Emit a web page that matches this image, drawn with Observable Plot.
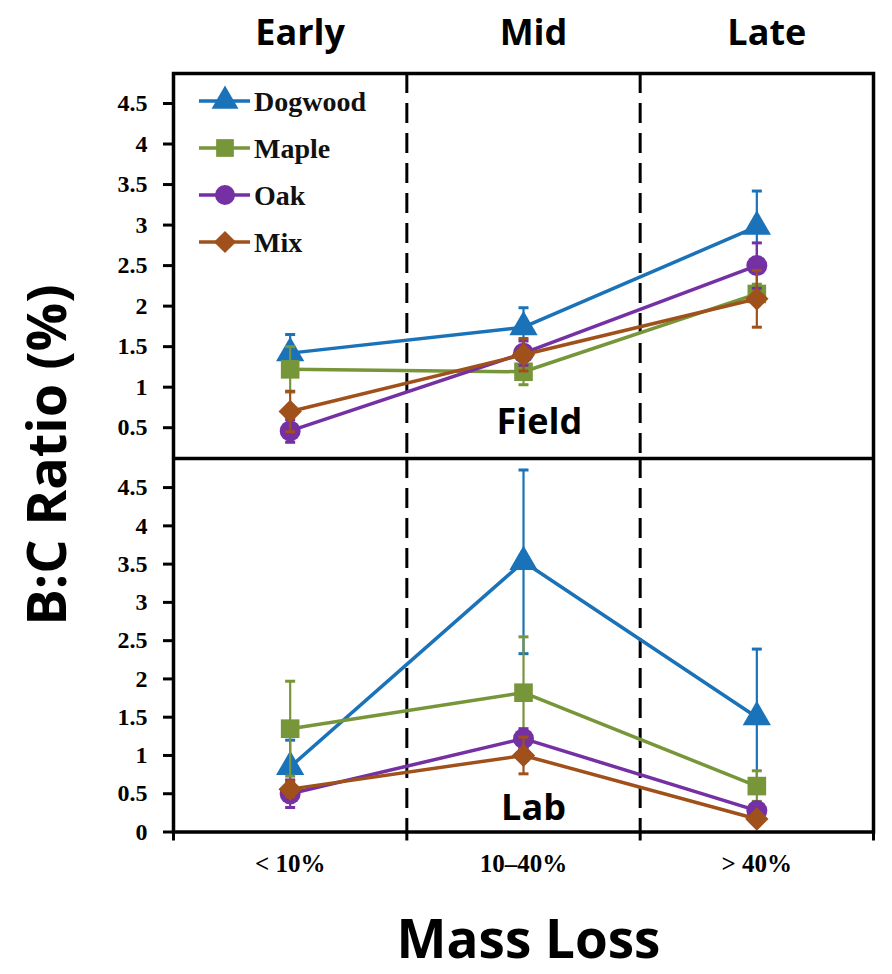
<!DOCTYPE html>
<html><head><meta charset="utf-8">
<script src="https://cdn.jsdelivr.net/npm/d3@7"></script>
<script src="https://cdn.jsdelivr.net/npm/@observablehq/plot@0.6"></script>
<style>
body{margin:0;background:#fff;}
#wrap{position:relative;width:892px;height:974px;overflow:hidden;background:#fff;}
#wrap > *{position:absolute;left:0;}
#ylab{font-family:"Open Sans",sans-serif;font-weight:700;font-size:54px;color:#000;white-space:nowrap;
  left:45px;top:455px;transform:translate(-50%,-50%) rotate(-90deg);line-height:1;}
</style></head><body><div id="wrap"></div>
<script>
// ---- data ----
const stages = ["< 10%", "10–40%", "> 40%"];
const phases = ["Early", "Mid", "Late"];
const species = ["Dogwood", "Maple", "Oak", "Mix"];
const colors = ["#1a72b8", "#77963a", "#7530a3", "#a0501a"];
const symbols = ["triangle", "square", "circle", "diamond2"];
const panels = ["Field", "Lab"];
const fieldTicks = [0.5, 1, 1.5, 2, 2.5, 3, 3.5, 4, 4.5];
const labTicks = [0, 0.5, 1, 1.5, 2, 2.5, 3, 3.5, 4, 4.5];

const fieldDogwood = [1.42, 1.74, 2.98], fieldDogwoodErr = [0.23, 0.24, 0.44];
const fieldMaple   = [1.22, 1.19, 2.15], fieldMapleErr   = [0.28, 0.16, 0.12];
const fieldOak     = [0.46, 1.42, 2.50], fieldOakErr     = [0.14, 0.15, 0.28];
const fieldMix     = [0.70, 1.40, 2.09], fieldMixErr     = [0.25, 0.20, 0.35];

const labDogwood = [0.85, 3.53, 1.50], labDogwoodErr = [0.35, 1.20, 0.89];
const labMaple   = [1.35, 1.82, 0.60], labMapleErr   = [0.62, 0.73, 0.20];
const labOak     = [0.50, 1.22, 0.28], labOakErr     = [0.18, 0.13, 0.05];
const labMix     = [0.56, 1.00, 0.17], labMixErr     = [0.10, 0.24, 0.05];

const fieldSeries = [[fieldDogwood, fieldDogwoodErr], [fieldMaple, fieldMapleErr], [fieldOak, fieldOakErr], [fieldMix, fieldMixErr]];
const labSeries = [[labDogwood, labDogwoodErr], [labMaple, labMapleErr], [labOak, labOakErr], [labMix, labMixErr]];

// ---- helpers ----
const capSymbol = {draw(ctx, size) { const r = Math.sqrt(size / Math.PI); ctx.moveTo(-r, 0); ctx.lineTo(r, 0); }};
const serif = {fontFamily: "'Liberation Serif', 'Times New Roman', serif", fontWeight: "bold"};
const sans = {fontFamily: "'Open Sans', sans-serif", fontWeight: "bold"};
const mid = i => i + 0.5;

function seriesMarks(series) {
  const marks = [];
  series.forEach(([vals, errs], s) => {
    const rows = vals.map((v, i) => ({x: mid(i), y: v, lo: v - errs[i], hi: v + errs[i]}));
    const c = colors[s];
    marks.push(
      Plot.ruleX(rows, {x: "x", y1: "lo", y2: "hi", stroke: c, strokeWidth: 2.2}),
      Plot.dot(rows, {x: "x", y: "lo", symbol: capSymbol, r: 5, stroke: c, strokeWidth: 3}),
      Plot.dot(rows, {x: "x", y: "hi", symbol: capSymbol, r: 5, stroke: c, strokeWidth: 3}),
      Plot.line(rows, {x: "x", y: "y", stroke: c, strokeWidth: 3.5}),
      Plot.dot(rows, {x: "x", y: "y", symbol: symbols[s], r: 10.5, fill: c, stroke: "none"})
    );
  });
  return marks;
}

const wrapEl = document.getElementById("wrap");
const xDomain = [0, stages.length];
const dividers = d3.range(1, stages.length);

// ---- top panel (Field) ----
const topPlot = Plot.plot({
  width: 892, height: 458,
  marginLeft: 173, marginRight: 19, marginTop: 73, marginBottom: 0,
  x: {domain: xDomain, axis: null},
  y: {domain: [0.12, 4.87]},
  marks: [
    Plot.ruleX(dividers, {stroke: "#000", strokeWidth: 3, strokeDasharray: "20,10"}),
    Plot.axisY({ticks: fieldTicks, tickFormat: d => String(d), tickSize: 10, tickPadding: 16,
      fontSize: 24, ...serif, label: null, strokeWidth: 3}),
    Plot.text(phases, {x: (d, i) => mid(i), text: d => d, frameAnchor: "top", lineAnchor: "middle",
      dy: -40, dx: 10, fontSize: 36, ...sans, fill: "#000"}),
    Plot.text([panels[0]], {x: mid(1), text: d => d, frameAnchor: "bottom", lineAnchor: "middle",
      dy: -36, dx: 16, fontSize: 36, ...sans, fill: "#000"}),
    ...seriesMarks(fieldSeries),
    Plot.frame({stroke: "#000", strokeWidth: 3.5})
  ]
});
topPlot.style.top = "0px";
wrapEl.appendChild(topPlot);

// ---- bottom panel (Lab) ----
const bottomPlot = Plot.plot({
  width: 892, height: 516,
  marginLeft: 173, marginRight: 19, marginTop: 0, marginBottom: 142.5,
  x: {domain: xDomain},
  y: {domain: [0, 4.88]},
  marks: [
    Plot.ruleX(dividers, {stroke: "#000", strokeWidth: 3, strokeDasharray: "20,10"}),
    Plot.axisY({ticks: labTicks, tickFormat: d => String(d), tickSize: 10, tickPadding: 16,
      fontSize: 24, ...serif, label: null, strokeWidth: 3}),
    Plot.axisX({ticks: d3.range(0, stages.length + 1), tickFormat: () => "", tickSize: 9,
      label: null, strokeWidth: 3}),
    Plot.axisX({ticks: stages.map((d, i) => mid(i)), tickFormat: d => stages[Math.floor(d)],
      tickSize: 0, tickPadding: 22, fontSize: 25, ...serif, label: null}),
    Plot.text([panels[1]], {x: mid(1), text: d => d, frameAnchor: "bottom", lineAnchor: "middle",
      dy: -24, dx: 10, fontSize: 36, ...sans, fill: "#000"}),
    Plot.text(["Mass Loss"], {x: mid(1), text: d => d, frameAnchor: "bottom", lineAnchor: "middle",
      dy: 109, dx: 5, fontSize: 53, ...sans, fill: "#000"}),
    ...seriesMarks(labSeries),
    Plot.frame({stroke: "#000", strokeWidth: 3.5})
  ]
});
bottomPlot.style.top = "458px";
wrapEl.appendChild(bottomPlot);

// ---- y label ----
const yl = document.createElement("div");
yl.id = "ylab";
yl.textContent = "B:C Ratio (%)";
wrapEl.appendChild(yl);

// ---- legend ----
const leg = d3.create("svg").attr("width", 300).attr("height", 280)
  .style("left", "0px").style("top", "0px").style("overflow", "visible");
const d3sym = {triangle: d3.symbolTriangle, square: d3.symbolSquare, circle: d3.symbolCircle, diamond2: d3.symbolDiamond2};
species.forEach((name, i) => {
  const g = leg.append("g").attr("transform", `translate(0,${101 + i * 47})`);
  g.append("line").attr("x1", 199).attr("x2", 250).attr("stroke", colors[i]).attr("stroke-width", 3.5);
  g.append("path").attr("transform", "translate(225,0)")
    .attr("d", d3.symbol(d3sym[symbols[i]], Math.PI * 10 * 10)()).attr("fill", colors[i]);
  g.append("text").attr("x", 254).attr("dy", "0.35em").text(name)
    .attr("font-family", "'Liberation Serif', serif").attr("font-weight", "bold")
    .attr("font-size", 28).attr("fill", "#111");
});
wrapEl.appendChild(leg.node());
</script></body></html>
